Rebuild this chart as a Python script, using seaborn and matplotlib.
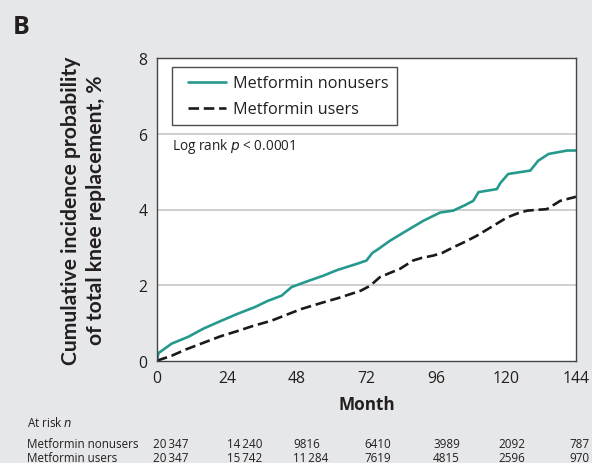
import pandas as pd
import seaborn as sns
import matplotlib.pyplot as plt
from matplotlib.lines import Line2D
from matplotlib.legend_handler import HandlerLine2D

# ========================== DATA ==========================
months_nonusers = [0, 0.5, 5, 10.7, 16, 22.2, 28, 33.7, 38, 42.8, 46.3, 50.9, 57.2, 62,
                   68.6, 72, 74, 76, 80, 85.8, 91.5, 97.3, 101.8, 106, 108.7, 110.5,
                   116.8, 118, 120.7, 128.3, 131, 134.6, 141, 144]
incidence_nonusers = [0, 0.2, 0.45, 0.63, 0.85, 1.06, 1.25, 1.42, 1.58, 1.72, 1.95, 2.08,
                      2.25, 2.4, 2.56, 2.65, 2.85, 2.95, 3.17, 3.44, 3.70, 3.92, 3.97,
                      4.12, 4.23, 4.46, 4.54, 4.7, 4.94, 5.03, 5.29, 5.47, 5.56, 5.56]

months_users = [0, 5, 10, 16.5, 22, 27.9, 33, 39.4, 44, 49.7, 57, 62, 66.4, 70, 73.2,
                76.6, 80, 83.5, 88, 91, 94.9, 98, 101.8, 106, 110, 115.6, 120.3, 124,
                127.2, 134, 138.6, 143.7, 144]
incidence_users = [0, 0.13, 0.3, 0.49, 0.65, 0.79, 0.92, 1.06, 1.2, 1.37, 1.54, 1.65,
                   1.76, 1.85, 1.98, 2.21, 2.32, 2.43, 2.65, 2.72, 2.78, 2.85, 3.0,
                   3.15, 3.31, 3.57, 3.79, 3.9, 3.97, 4.01, 4.23, 4.33, 4.35]

groups = ['Metformin nonusers', 'Metformin users']
x_ticks = [0, 24, 48, 72, 96, 120, 144]
y_ticks = [0, 2, 4, 6, 8]

ts = '\u2009'  # thin space in the at-risk numbers
at_risk_nonusers = ['20' + ts + '347', '14' + ts + '240', '9816', '6410', '3989', '2092', '787']
at_risk_users = ['20' + ts + '347', '15' + ts + '742', '11' + ts + '284', '7619', '4815', '2596', '970']

df = pd.concat([
    pd.DataFrame({'month': months_nonusers, 'incidence': incidence_nonusers, 'group': groups[0]}),
    pd.DataFrame({'month': months_users, 'incidence': incidence_users, 'group': groups[1]}),
])

# ========================== STYLE ==========================
sns.set_theme(style='white')
plt.rcParams['font.family'] = ['Open Sans', 'DejaVu Sans']
bg = '#e6e7e9'
txt = '#231f20'
teal = '#26998f'

fig = plt.figure(figsize=(5.92, 4.64), dpi=100, facecolor=bg)
ax = fig.add_axes([157 / 592, 1 - 361.7 / 464, 419 / 592, 302.4 / 464])
ax.set_facecolor('white')

# ========================== PLOT ==========================
sns.lineplot(data=df, x='month', y='incidence', hue='group', style='group',
             palette={groups[0]: teal, groups[1]: '#1a1a1a'},
             dashes={groups[0]: '', groups[1]: (4, 1.8)},
             estimator=None, sort=True, linewidth=1.9, ax=ax)

ax.set_xlim(0, 144)
ax.set_ylim(0, 8)
ax.set_xticks(x_ticks)
ax.set_yticks(y_ticks)
ax.tick_params(axis='both', direction='out', length=3.6, width=1, color='#444444',
               labelsize=11.3, labelcolor=txt, pad=3.4)
for y in [2, 4, 6]:
    ax.axhline(y, color='#cfcfcf', lw=1.4, zorder=0)
for s in ax.spines.values():
    s.set_color('#444444')
    s.set_linewidth(1)

ax.set_xlabel('')
ax.set_ylabel('')
fig.text(366.5 / 592, 1 - 405 / 464, 'Month', fontsize=12.3, fontweight='bold',
         color=txt, ha='center', va='center')
fig.text(83.5 / 592, 1 - 210.5 / 464,
         'Cumulative incidence probability\nof total knee replacement, %',
         family=['Lato', 'DejaVu Sans'], fontsize=15.2, fontweight='bold', color=txt,
         rotation=90, ha='center', va='center', multialignment='center', linespacing=1.3)

handles, labels = ax.get_legend_handles_labels()
leg = ax.legend(handles, labels, loc='upper left', bbox_to_anchor=(0.036, 0.970),
                borderaxespad=0, frameon=True, fancybox=False, fontsize=11.7,
                handlelength=2.83, handletextpad=0.41, borderpad=0.5, labelspacing=0.6,
                handler_map={Line2D: HandlerLine2D(xpad=0.5)})
leg.get_frame().set_edgecolor('#231f20')
leg.get_frame().set_linewidth(1)
for t in leg.get_texts():
    t.set_color(txt)

ax.text(0.036, 0.71, r'Log rank $\it{p}$ < 0.0001', transform=ax.transAxes,
        fontsize=9.8, color=txt, va='center', ha='left')

# panel letter
fig.text(13 / 592, 1 - 27.5 / 464, 'B', fontsize=18, fontweight='bold', color=txt,
         va='center', ha='left')

# ========================== AT RISK TABLE ==========================
fs_tab = 8.4
fig.text(27 / 592, 1 - 423 / 464, 'At risk $\\it{n}$', fontsize=fs_tab, color=txt, va='center')
col_x = [153, 227, 293, 364, 433, 498, 569]
for row_y, name, vals in [(445, groups[0], at_risk_nonusers), (459, groups[1], at_risk_users)]:
    fig.text(27 / 592, 1 - row_y / 464, name, fontsize=fs_tab, color=txt, va='center')
    for cx, v in zip(col_x, vals):
        fig.text(cx / 592, 1 - row_y / 464, v, fontsize=fs_tab, color=txt, va='center')

plt.savefig('out.png', dpi=100, facecolor=bg)
